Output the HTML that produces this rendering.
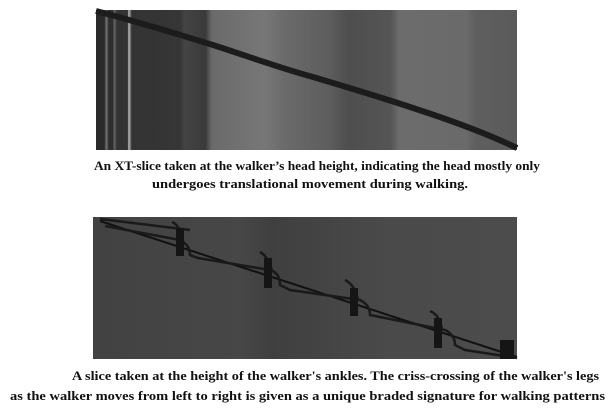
<!DOCTYPE html>
<html><head><meta charset="utf-8"><style>
html,body{margin:0;padding:0;background:#fff;width:612px;height:410px;overflow:hidden}
svg{display:block}
text{font-family:"Liberation Serif",serif;font-weight:bold;font-size:13px;fill:#111}
</style></head><body>
<svg width="612" height="410">
<defs>
<linearGradient id="g1" x1="0" x2="1" y1="0" y2="0">
<stop offset="0" stop-color="#2a2a2a"/><stop offset="0.02" stop-color="#2a2a2a"/>
<stop offset="0.025" stop-color="#777"/><stop offset="0.03" stop-color="#2e2e2e"/>
<stop offset="0.04" stop-color="#2e2e2e"/><stop offset="0.043" stop-color="#666"/><stop offset="0.05" stop-color="#333"/>
<stop offset="0.075" stop-color="#333"/><stop offset="0.078" stop-color="#bbb"/><stop offset="0.085" stop-color="#333"/>
<stop offset="0.2" stop-color="#363636"/><stop offset="0.21" stop-color="#444"/><stop offset="0.26" stop-color="#3a3a3a"/>
<stop offset="0.275" stop-color="#6a6a6a"/><stop offset="0.4" stop-color="#777"/><stop offset="0.45" stop-color="#6a6a6a"/>
<stop offset="0.55" stop-color="#5e5e5e"/><stop offset="0.6" stop-color="#4e4e4e"/><stop offset="0.7" stop-color="#555"/>
<stop offset="0.72" stop-color="#6c6c6c"/><stop offset="0.88" stop-color="#6a6a6a"/><stop offset="0.9" stop-color="#5f5f5f"/>
<stop offset="1" stop-color="#5a5a5a"/>
</linearGradient>
<linearGradient id="g2" x1="0" x2="1">
<stop offset="0" stop-color="#424242"/><stop offset="0.35" stop-color="#474747"/><stop offset="0.42" stop-color="#3f3f3f"/>
<stop offset="0.7" stop-color="#4a4a4a"/><stop offset="1" stop-color="#4c4c4c"/>
</linearGradient>
</defs>
<g>
<rect x="96" y="10" width="421" height="140" fill="url(#g1)"/>
<path d="M96 11 C150 25 180 35 213 45 C250 57 280 68 313 77 C350 88 380 97 413 108 C450 120 490 135 517 148" stroke="#1c1c1c" stroke-width="6" fill="none"/>
</g>
<text x="94" y="170" textLength="446" lengthAdjust="spacingAndGlyphs">An XT-slice taken at the walker’s head height, indicating the head mostly only</text>
<text x="152" y="188" textLength="316" lengthAdjust="spacingAndGlyphs">undergoes translational movement during walking.</text>
<g>
<rect x="93" y="217" width="424" height="142" fill="url(#g2)"/>
<path d="M100 221 L517 357" stroke="#111" stroke-width="2" fill="none"/>
<g stroke="#1a1a1a" stroke-width="2.5" fill="none">
<path d="M100 219 L190 230 M105 226 L180 240 Q190 245 190 255 L198 258 L270 270 Q280 273 280 285 L290 290 L360 300 Q370 305 370 315 L380 317 L445 330 Q455 335 455 345 L465 350 L517 358"/>
<path d="M172 222 Q180 225 182 240 M260 252 Q270 258 272 272 M345 280 Q355 285 358 300 M430 311 Q440 315 442 330"/>
</g>
<g fill="#151515">
<rect x="176" y="228" width="8" height="28"/><rect x="264" y="258" width="8" height="30"/>
<rect x="350" y="288" width="8" height="28"/><rect x="434" y="318" width="8" height="30"/>
<rect x="500" y="340" width="14" height="19"/>
</g>
</g>
<text x="72" y="380" textLength="527" lengthAdjust="spacingAndGlyphs">A slice taken at the height of the walker's ankles. The criss-crossing of the walker's legs</text>
<text x="10" y="400" textLength="595" lengthAdjust="spacingAndGlyphs">as the walker moves from left to right is given as a unique braded signature for walking patterns</text>
</svg>
</body></html>
